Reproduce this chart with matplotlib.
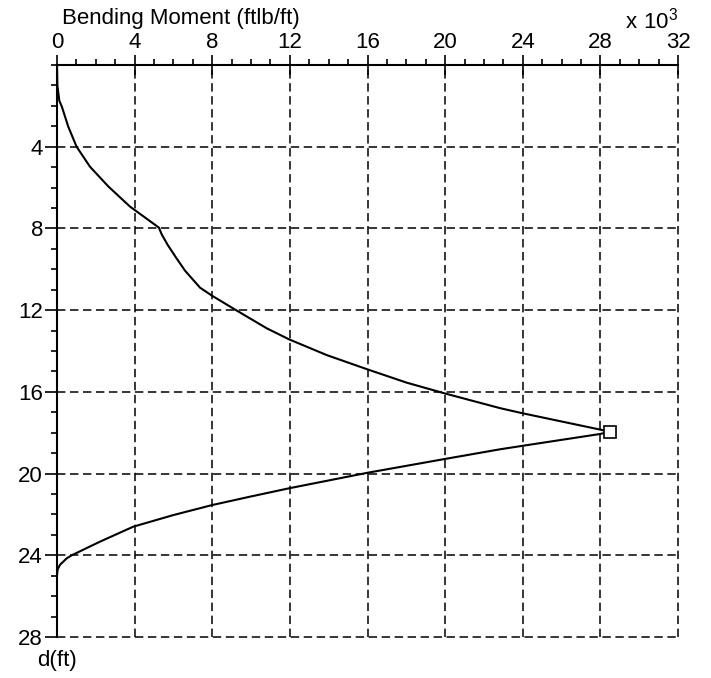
import numpy as np
import matplotlib
matplotlib.use('Agg')
import matplotlib.pyplot as plt
from matplotlib.ticker import MultipleLocator

plt.rcParams['font.family'] = ['Liberation Sans', 'DejaVu Sans']

# depth (ft) and bending moment (x 10^3 ftlb/ft)
depth = [0.0, 1.0, 1.75, 2.04, 3.02, 4.0, 4.98, 5.95, 6.93, 7.96, 8.3, 8.8,
         9.45, 10.07, 10.9, 11.3, 12.02, 12.89, 13.43, 14.2, 14.9, 15.55,
         16.07, 16.8, 17.05, 17.95,
         18.06, 18.64, 18.81, 19.29, 19.96, 20.72, 21.13, 21.54, 22.03, 22.6,
         23.33, 23.66, 24.0, 24.15, 24.47, 24.7, 25.0]
moment = [0.0, 0.02, 0.12, 0.25, 0.58, 1.01, 1.70, 2.65, 3.76, 5.25, 5.4, 5.7,
          6.15, 6.6, 7.37, 8.0, 9.26, 10.81, 11.96, 13.9, 16.0, 18.02,
          19.96, 22.84, 24.0, 28.5,
          28.0, 24.0, 22.84, 19.96, 16.0, 11.96, 9.95, 8.0, 6.0, 3.93,
          2.22, 1.5, 0.76, 0.5, 0.15, 0.03, 0.0]
max_depth = 17.95
max_moment = 28.5

x_ticks = [0, 4, 8, 12, 16, 20, 24, 28, 32]
y_ticks = [4, 8, 12, 16, 20, 24, 28]

fig = plt.figure(figsize=(7.11, 6.78), dpi=100)
ax = fig.add_axes([57/711, 1-637/678, 621/711, 572/678])

ax.plot(moment, depth, color='black', lw=1.5, zorder=3)
ax.plot([max_moment], [max_depth], marker='s', ms=8.5, mfc='white', mec='black',
        mew=1.2, zorder=4, clip_on=False)

ax.set_xlim(0, 32)
ax.set_ylim(28, 0)
ax.xaxis.tick_top()
ax.set_xticks(x_ticks)
ax.set_yticks(y_ticks)
ax.xaxis.set_minor_locator(MultipleLocator(1))
ax.yaxis.set_minor_locator(MultipleLocator(1))
ax.tick_params(axis='x', which='major', direction='inout', length=15, width=1.2,
               labelsize=16, pad=1)
ax.tick_params(axis='x', which='minor', direction='out', length=4.5, width=1.2)
ax.tick_params(axis='y', which='major', direction='out', length=9, width=1.2,
               labelsize=16, pad=1)
ax.tick_params(axis='y', which='minor', direction='out', length=4.5, width=1.2)

for s in ['right', 'bottom']:
    ax.spines[s].set_visible(False)
for s in ['top', 'left']:
    ax.spines[s].set_linewidth(1.5)

ax.grid(True, which='major', color='black', lw=1.1, linestyle=(0, (5.5, 3)))
for gl in ax.get_xgridlines() + ax.get_ygridlines():
    gl.set_clip_on(False)

fig.text(62/711, 1-8/678, 'Bending Moment (ftlb/ft)', fontsize=16, ha='left', va='top')
fig.text(678/711, 1-8/678, r'$\mathregular{x\ 10^3}$', fontsize=16, ha='right', va='top')
fig.text(57/711, 1-650/678, 'd(ft)', fontsize=16, ha='center', va='top')

fig.savefig('out.png', dpi=100)
